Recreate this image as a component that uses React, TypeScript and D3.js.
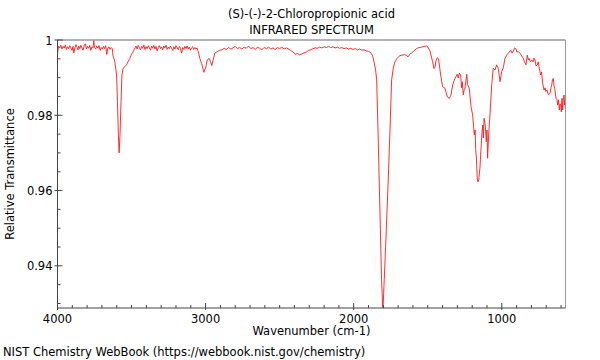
import React from 'react';
import * as d3 from 'd3';

const chartTitle = '(S)-(-)-2-Chloropropionic acid';
const chartSubtitle = 'INFRARED SPECTRUM';
const xLabel = 'Wavenumber (cm-1)';
const yLabel = 'Relative Transmittance';
const credit = 'NIST Chemistry WebBook (https://webbook.nist.gov/chemistry)';

const xTicks = [4000, 3000, 2000, 1000];
const yTicks = [0.94, 0.96, 0.98, 1];

// [wavenumber, transmittance]
const highRegion = [
  [4000, 0.9962], [3993, 0.9984], [3985, 0.9979], [3978, 0.9986], [3970, 0.9976], [3962, 0.9983],
  [3955, 0.9978], [3947, 0.9987], [3940, 0.9975], [3932, 0.9982], [3925, 0.9977], [3917, 0.9985],
  [3910, 0.9979], [3902, 0.9972], [3895, 0.9983], [3890, 0.9966], [3882, 0.998], [3875, 0.9988],
  [3868, 0.998], [3862, 0.9974], [3857, 0.9984], [3850, 0.9977], [3842, 0.9986], [3835, 0.9979],
  [3827, 0.9973], [3820, 0.9985], [3812, 0.999], [3805, 0.9976], [3797, 0.9983], [3790, 0.9978],
  [3782, 0.9986], [3775, 0.9972], [3767, 0.9982], [3760, 0.9979], [3755, 0.9999], [3750, 0.998],
  [3742, 0.9976], [3735, 0.9984], [3727, 0.9978], [3720, 0.9985], [3712, 0.9972], [3705, 0.998],
  [3697, 0.9976], [3690, 0.9983], [3682, 0.9977], [3675, 0.9985], [3667, 0.9962], [3660, 0.9979],
  [3652, 0.9982], [3645, 0.9975], [3637, 0.998], [3630, 0.9977],
];

const ohBand = [
  [3626, 0.996], [3613, 0.9942], [3601, 0.9907], [3595, 0.9836], [3589, 0.9748], [3584, 0.97],
  [3578, 0.9748], [3571, 0.9836], [3565, 0.9907], [3557, 0.9925], [3545, 0.9929], [3534, 0.9934],
  [3524, 0.9942], [3512, 0.9951], [3500, 0.9962], [3489, 0.9969], [3478, 0.9978],
];

const midRegion = [
  [3470, 0.9984], [3462, 0.9976], [3455, 0.9986], [3447, 0.998], [3440, 0.9974], [3432, 0.9983],
  [3425, 0.9978], [3417, 0.9987], [3410, 0.9975], [3402, 0.9982], [3395, 0.9977], [3387, 0.9985],
  [3380, 0.9979], [3372, 0.9973], [3365, 0.9984], [3357, 0.9978], [3350, 0.9986], [3342, 0.9976],
  [3335, 0.9983], [3327, 0.9971], [3320, 0.998], [3312, 0.9985], [3305, 0.9977], [3297, 0.9982],
  [3290, 0.9974], [3282, 0.9984], [3275, 0.9979], [3267, 0.9986], [3260, 0.9975], [3252, 0.9981],
  [3245, 0.9977], [3237, 0.9984], [3230, 0.9978], [3222, 0.9972], [3215, 0.9982], [3207, 0.9976],
  [3200, 0.9985], [3192, 0.9979], [3185, 0.9974], [3177, 0.9983], [3170, 0.9977], [3162, 0.9965],
  [3155, 0.998], [3147, 0.9975], [3140, 0.9983], [3132, 0.9977], [3125, 0.9984], [3117, 0.9976],
  [3110, 0.9981], [3102, 0.9973], [3095, 0.9979], [3087, 0.9982], [3080, 0.9975], [3072, 0.998],
  [3065, 0.9976], [3058, 0.9979],
];

const chBand = [
  [3052, 0.9972], [3045, 0.9962], [3039, 0.9951], [3027, 0.9938], [3012, 0.9914], [2998, 0.9929],
  [2989, 0.9947], [2976, 0.9951], [2967, 0.9942], [2958, 0.9932], [2949, 0.9947], [2938, 0.9965],
  [2922, 0.9969], [2904, 0.9973],
];

const flatRegion = [
  [2890, 0.9974], [2875, 0.9978], [2860, 0.9975], [2845, 0.998], [2830, 0.9976], [2815, 0.9979],
  [2800, 0.9983], [2785, 0.9977], [2770, 0.998], [2755, 0.9976], [2740, 0.9981], [2725, 0.9978],
  [2710, 0.9984], [2695, 0.9977], [2680, 0.998], [2665, 0.9975], [2650, 0.9981], [2635, 0.9978],
  [2620, 0.9974], [2605, 0.998], [2590, 0.9977], [2575, 0.9981], [2560, 0.9976], [2545, 0.9979],
  [2530, 0.9975], [2515, 0.998], [2500, 0.9977], [2485, 0.9981], [2470, 0.9976], [2455, 0.9979],
  [2440, 0.9976], [2425, 0.9972], [2410, 0.9968], [2395, 0.9962], [2380, 0.9964], [2365, 0.9961],
  [2350, 0.9963], [2335, 0.9966], [2320, 0.9968], [2305, 0.9972], [2290, 0.9974], [2275, 0.9977],
  [2260, 0.9979], [2245, 0.9978], [2230, 0.9981], [2215, 0.9979], [2200, 0.9982], [2185, 0.998],
  [2170, 0.9983], [2155, 0.998], [2140, 0.9982], [2125, 0.9979], [2110, 0.9981], [2095, 0.9978],
  [2080, 0.998], [2065, 0.9977], [2050, 0.9979], [2035, 0.9976], [2020, 0.9978], [2005, 0.9975],
  [1990, 0.9977], [1975, 0.9974], [1960, 0.9976], [1945, 0.9973], [1930, 0.9974], [1915, 0.9971],
  [1900, 0.997], [1885, 0.9966], [1872, 0.9958],
];

const carbonylBand = [
  [1863, 0.9942], [1852, 0.992], [1845, 0.9894], [1836, 0.9761], [1828, 0.9628], [1820, 0.9496],
  [1812, 0.9363], [1803, 0.9278], [1794, 0.9363], [1780, 0.9496], [1767, 0.9628], [1755, 0.9761],
  [1744, 0.9894], [1735, 0.992], [1725, 0.9939], [1710, 0.995], [1691, 0.9958], [1674, 0.996],
  [1657, 0.9961], [1641, 0.9959], [1634, 0.9955], [1620, 0.9963], [1611, 0.9965], [1593, 0.9971],
  [1577, 0.9977], [1560, 0.998], [1542, 0.9981], [1526, 0.9983], [1508, 0.9984], [1499, 0.9981],
];

const fingerprint = [
  [1485, 0.9971], [1467, 0.9942], [1458, 0.9924], [1451, 0.9928], [1445, 0.9944], [1436, 0.9953],
  [1427, 0.995], [1413, 0.9907], [1400, 0.9876], [1384, 0.9872], [1368, 0.9849], [1355, 0.9845],
  [1343, 0.9854], [1332, 0.9881], [1316, 0.9898], [1301, 0.9909], [1294, 0.9899], [1287, 0.9912],
  [1278, 0.9907], [1272, 0.9873], [1267, 0.9889], [1260, 0.9854], [1255, 0.9867], [1249, 0.9872],
  [1237, 0.9909], [1231, 0.9881], [1220, 0.9872], [1208, 0.9823], [1197, 0.9801], [1186, 0.9748],
  [1180, 0.9761], [1177, 0.9712], [1171, 0.9681], [1166, 0.9633], [1161, 0.9623], [1156, 0.9628],
  [1148, 0.9659], [1139, 0.9721], [1134, 0.9756], [1129, 0.9774], [1125, 0.974], [1120, 0.9792],
  [1112, 0.9774], [1105, 0.973], [1100, 0.9761], [1096, 0.9686], [1089, 0.9748], [1080, 0.9801],
  [1068, 0.9881], [1058, 0.9925], [1046, 0.992], [1035, 0.9934], [1024, 0.9925], [1012, 0.9889],
  [1001, 0.9916], [990, 0.9926], [979, 0.9951], [967, 0.996], [956, 0.9965], [940, 0.9973],
  [931, 0.9965], [922, 0.9971], [914, 0.9979], [904, 0.9976], [897, 0.9968], [889, 0.9969],
  [877, 0.9965], [866, 0.9958], [855, 0.9951], [847, 0.9942], [837, 0.9934], [828, 0.996],
  [821, 0.9947], [815, 0.9951], [807, 0.9942], [798, 0.9947], [788, 0.9942], [783, 0.9952],
  [776, 0.9947], [769, 0.9931], [761, 0.9934], [754, 0.9942], [747, 0.9925], [738, 0.9907],
  [732, 0.9915], [724, 0.9885], [715, 0.9867], [708, 0.9873], [702, 0.9863], [695, 0.9867],
  [686, 0.9854], [675, 0.9858], [668, 0.9873], [663, 0.9881], [658, 0.9894], [652, 0.9898],
  [648, 0.9878], [643, 0.9872], [634, 0.9845], [627, 0.9841], [623, 0.9827], [617, 0.9841],
  [612, 0.9814], [607, 0.983], [602, 0.9827], [598, 0.9809], [594, 0.9845], [589, 0.9814],
  [585, 0.9841], [580, 0.9854], [577, 0.9827], [574, 0.9836], [570, 0.9851],
];

const spectrum = [...highRegion, ...ohBand, ...midRegion, ...chBand, ...flatRegion, ...carbonylBand, ...fingerprint];

const W = 600;
const H = 360;
const plot = { left: 57.5, right: 565.5, top: 40, bottom: 308 };
const font = '"DejaVu Sans", sans-serif';
const fs = 11.5;

export default function App() {
  const x = d3.scaleLinear().domain([4000, 570]).range([plot.left, plot.right]);
  const y = d3.scaleLinear().domain([0.9288, 1]).range([plot.bottom, plot.top]);

  const line = d3
    .line<number[]>()
    .x((d) => x(d[0]))
    .y((d) => y(d[1]));

  const xMinor = d3.range(600, 4001, 100).filter((v) => !xTicks.includes(v));
  const yMinor = d3.range(0.93, 1.0001, 0.005).filter((v) => !yTicks.some((t) => Math.abs(t - v) < 1e-6));
  const cx = (plot.left + plot.right) / 2;

  return (
    <svg width={W} height={H} style={{ position: 'absolute', left: 0, top: 0, background: '#fff' }} fontFamily={font}>
      <defs>
        <clipPath id="plot-clip">
          <rect x={plot.left} y={plot.top} width={plot.right - plot.left} height={plot.bottom - plot.top} />
        </clipPath>
      </defs>

      <text x={cx} y={17.5} textAnchor="middle" fontSize={fs}>{chartTitle}</text>
      <text x={cx} y={34} textAnchor="middle" fontSize={fs}>{chartSubtitle}</text>

      <path d={line(spectrum) || ''} fill="none" stroke="#ff1a1a" strokeWidth={0.9} clipPath="url(#plot-clip)" />

      {/* frame: top/right grey, left/bottom dark */}
      <line x1={plot.left} x2={plot.right} y1={plot.top} y2={plot.top} stroke="#999" strokeWidth={1.5} />
      <line x1={plot.right} x2={plot.right} y1={plot.top} y2={plot.bottom} stroke="#999" strokeWidth={1} />
      <line x1={plot.left} x2={plot.left} y1={plot.top} y2={plot.bottom} stroke="#444" strokeWidth={1} />
      <line x1={plot.left} x2={plot.right} y1={plot.bottom} y2={plot.bottom} stroke="#444" strokeWidth={1} />

      {xMinor.map((v) => (
        <line key={'xm' + v} x1={x(v)} x2={x(v)} y1={plot.bottom} y2={plot.bottom - 3} stroke="#444" />
      ))}
      {xTicks.map((v) => (
        <g key={'x' + v}>
          <line x1={x(v)} x2={x(v)} y1={plot.bottom + 2} y2={plot.bottom - 5} stroke="#444" />
          <text x={x(v)} y={plot.bottom + 14.5} textAnchor="middle" fontSize={fs}>{v}</text>
        </g>
      ))}

      {yMinor.map((v) => (
        <line key={'ym' + v} x1={plot.left} x2={plot.left + 3} y1={y(v)} y2={y(v)} stroke="#444" />
      ))}
      {yTicks.map((v) => (
        <g key={'y' + v}>
          <line x1={plot.left - 3} x2={plot.left + 5} y1={y(v)} y2={y(v)} stroke="#444" />
          <text x={plot.left - 5} y={y(v) + 4.5} textAnchor="end" fontSize={fs}>{d3.format('~g')(v)}</text>
        </g>
      ))}

      <text x={cx} y={335} textAnchor="middle" fontSize={fs}>{xLabel}</text>
      <text transform={`translate(14, ${(plot.top + plot.bottom) / 2}) rotate(-90)`} textAnchor="middle" fontSize={fs}>
        {yLabel}
      </text>
      <text x={3} y={356} fontSize={fs}>{credit}</text>
    </svg>
  );
}
